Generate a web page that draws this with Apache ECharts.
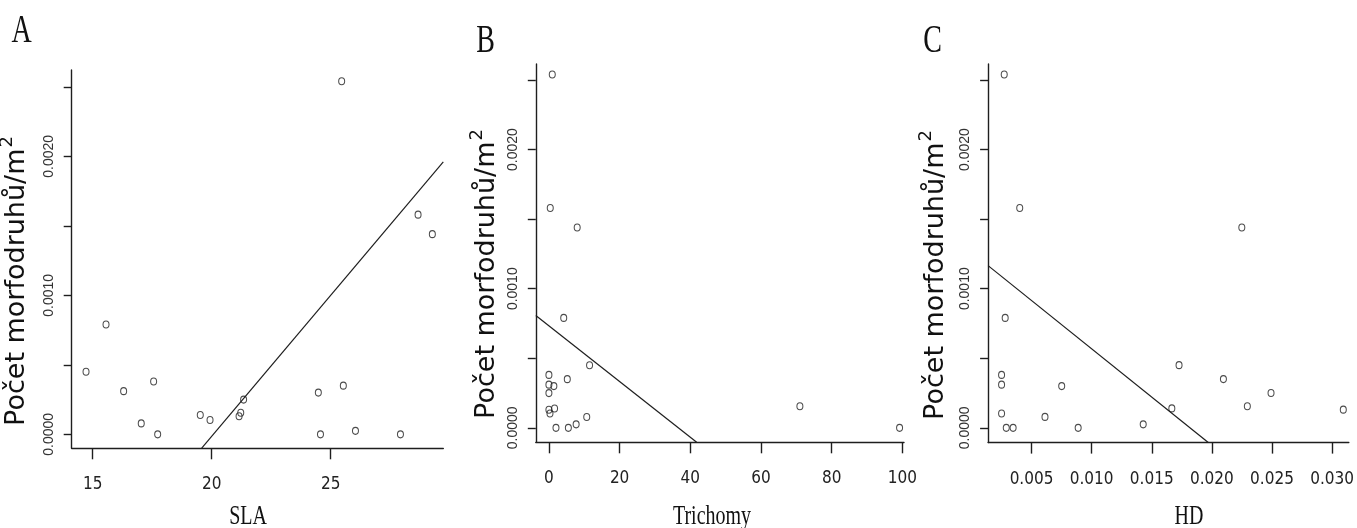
<!DOCTYPE html>
<html>
<head>
<meta charset="utf-8">
<script src="https://cdn.jsdelivr.net/npm/echarts@6/dist/echarts.min.js"></script>
<style>
  html, body { margin: 0; padding: 0; background: #fff; }
  #chart { width: 1357px; height: 528px; }
</style>
</head>
<body>
<div id="chart"></div>
<script>
// Morphospecies density per m² for 19 sites, with three leaf traits
const counts   = [0.00254, 0.00158, 0.00144, 0.00079, 0.00045, 0.00038, 0.00035, 0.00031, 0.00030, 0.00025,
                  0.000155, 0.000139, 0.000130, 0.000103, 0.000078, 0.000025, 0, 0, 0];
const sla      = [25.46, 28.67, 29.27, 15.56, 14.72, 17.56, 25.53, 16.30, 24.48, 21.34,
                  21.22, 19.52, 21.15, 19.93, 17.04, 26.04, 17.73, 24.57, 27.93];
const trichomy = [0.95, 0.38, 8.0, 4.19, 11.5, 0.0, 5.2, 0.0, 1.4, 0.0,
                  71.0, 1.6, 0.0, 0.3, 10.7, 7.7, 2.0, 5.5, 99.2];
const hd       = [0.00273, 0.00402, 0.02249, 0.00281, 0.01727, 0.00251, 0.02096, 0.00251, 0.00751, 0.02492,
                  0.02295, 0.01667, 0.03093, 0.00251, 0.00612, 0.01429, 0.00290, 0.00347, 0.00888];

// Fitted regression lines (endpoints inside each plot region)
const slaFit      = [[19.58, -0.0001], [29.73, 0.00196]];
const trichomyFit = [[-3.71, 0.000808], [41.8, -0.000104]];
const hdFit       = [[0.001389, 0.001166], [0.0197, -0.000106]];

// Tick positions and labels
const slaTicks      = [15, 20, 25];
const trichomyTicks = [0, 20, 40, 60, 80, 100];
const hdTicks       = [0.005, 0.010, 0.015, 0.020, 0.025, 0.030];
const countTicks    = [0, 0.0005, 0.0010, 0.0015, 0.0020, 0.0025];
const countLabels   = [0, 0.0010, 0.0020];

const panelLetters = ['A', 'B', 'C'];
const xTitles = ['SLA', 'Trichomy', 'HD'];
const yTitleBase = 'Počet morfodruhů/m';
const yTitleSup = '2';

const INK = '#1e1e1e';

function pairs(xs, ys) { return xs.map((x, i) => [x, ys[i]]); }

const grids = [
  { left: 71.7,  top: 70,   width: 371.6, height: 378.3 },
  { left: 535.8, top: 63.9, width: 368.2, height: 378.4 },
  { left: 988.1, top: 63.9, width: 368.9, height: 378.7 }
];

const xRanges = [[14.118, 29.73], [-3.71, 100.45], [0.001389, 0.03139]];
const yRanges = [[-0.0001007, 0.002621], [-0.000104, 0.002616], [-0.0001064, 0.002616]];
const xTickSets = [slaTicks, trichomyTicks, hdTicks];
const xFormat = [v => String(Math.round(v)), v => String(Math.round(v)), v => v.toFixed(3)];

const xAxes = grids.map((g, i) => ({
  type: 'value', gridIndex: i, position: 'bottom',
  min: xRanges[i][0], max: xRanges[i][1],
  axisLine: { show: true, onZero: false, lineStyle: { color: INK, width: 1.4 } },
  axisTick: { show: true, length: 11, customValues: xTickSets[i], lineStyle: { color: INK, width: 1.4 } },
  axisLabel: {
    customValues: xTickSets[i], formatter: xFormat[i], margin: 28,
    fontFamily: '"Liberation Sans Narrow", "DejaVu Sans Condensed", sans-serif',
    fontSize: 17, color: '#222'
  },
  splitLine: { show: false }
}));

const yAxes = grids.map((g, i) => ({
  type: 'value', gridIndex: i, position: 'left',
  min: yRanges[i][0], max: yRanges[i][1],
  axisLine: { show: true, onZero: false, lineStyle: { color: INK, width: 1.4 } },
  axisTick: { show: true, length: 8, customValues: countTicks, lineStyle: { color: INK, width: 1.4 } },
  axisLabel: {
    customValues: countLabels, formatter: v => v.toFixed(4), rotate: 90, margin: 16,
    align: 'center', verticalAlign: 'bottom',
    fontFamily: '"Liberation Sans", Arial, sans-serif', fontSize: 14, color: '#333'
  },
  splitLine: { show: false }
}));

const xSeries = [sla, trichomy, hd];
const fits = [slaFit, trichomyFit, hdFit];
const series = [];
xSeries.forEach((xs, i) => {
  series.push({
    type: 'scatter', xAxisIndex: i, yAxisIndex: i,
    data: pairs(xs, counts),
    symbol: 'circle', symbolSize: [6, 7],
    itemStyle: { color: 'rgba(255,255,255,0)', borderColor: INK, borderWidth: 1.1 },
    emphasis: { disabled: true }
  });
  series.push({
    type: 'line', xAxisIndex: i, yAxisIndex: i,
    data: fits[i], showSymbol: false, clip: true,
    lineStyle: { color: INK, width: 1.2 },
    emphasis: { disabled: true }
  });
});

// Panel letters and axis titles (serif text is set slightly condensed)
const letterPos = [[21.7, 11], [485.5, 21], [932.5, 21]];
const xTitlePos = [[248, 503.5], [712, 503], [1189, 503.5]];
const yTitlePos = [[14, 281], [484, 274], [933, 275]];
const graphic = [];
panelLetters.forEach((t, i) => {
  graphic.push({
    type: 'text', x: letterPos[i][0], y: letterPos[i][1], scaleX: 0.7,
    style: { text: t, font: '40px "Liberation Serif", serif', fill: '#111', align: 'center', verticalAlign: 'top' }
  });
});
xTitles.forEach((t, i) => {
  graphic.push({
    type: 'text', x: xTitlePos[i][0], y: xTitlePos[i][1], scaleX: 0.74,
    style: { text: t, font: '27px "Liberation Serif", serif', fill: '#111', align: 'center', verticalAlign: 'top' }
  });
});
yTitlePos.forEach((p) => {
  graphic.push({
    type: 'text', x: p[0], y: p[1], rotation: Math.PI / 2,
    style: {
      text: '{t|' + yTitleBase + '}{s|' + yTitleSup + '}',
      align: 'center', verticalAlign: 'middle',
      rich: {
        t: { font: '27px "DejaVu Sans", sans-serif', fill: '#111', verticalAlign: 'bottom', lineHeight: 32 },
        s: { font: '18px "DejaVu Sans", sans-serif', fill: '#111', verticalAlign: 'top', lineHeight: 32, padding: [0, 0, 0, 1] }
      }
    }
  });
});

const chart = echarts.init(document.getElementById('chart'), null, { renderer: 'canvas' });
chart.setOption({
  animation: false,
  backgroundColor: '#fff',
  grid: grids,
  xAxis: xAxes,
  yAxis: yAxes,
  series: series,
  graphic: graphic
});
</script>
</body>
</html>
